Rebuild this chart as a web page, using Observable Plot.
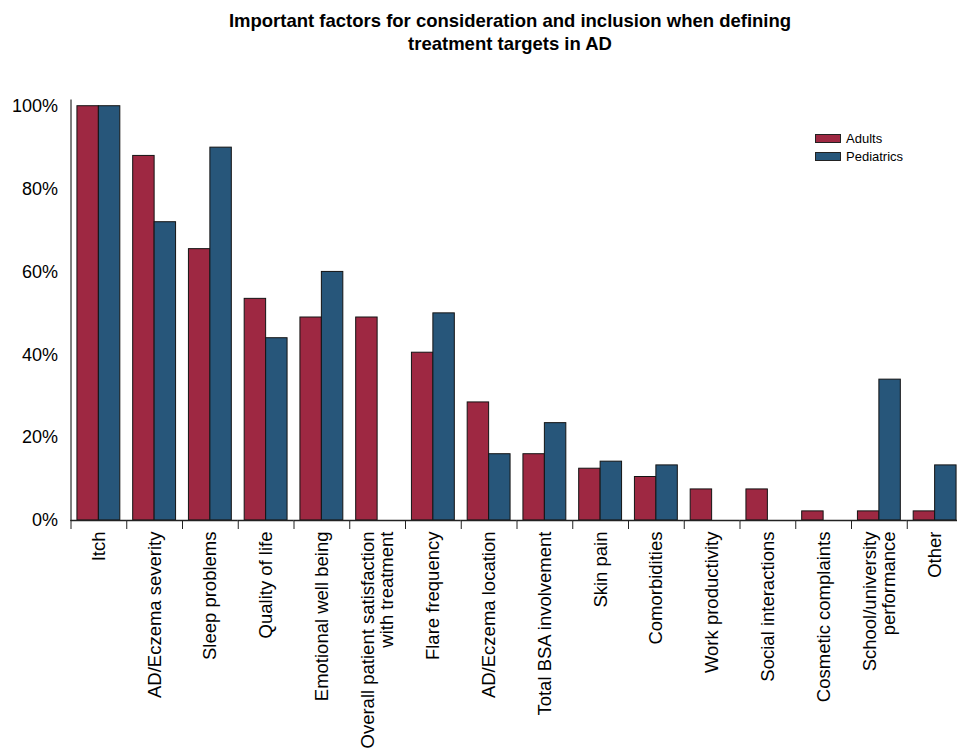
<!DOCTYPE html>
<html><head><meta charset="utf-8">
<script src="https://cdn.jsdelivr.net/npm/d3@7"></script>
<script src="https://cdn.jsdelivr.net/npm/@observablehq/plot@0.6"></script>
<style>
body{margin:0;background:#fff;font-family:"Liberation Sans",Arial,sans-serif;overflow:hidden;color:#000;}
#title{box-sizing:border-box;height:55px;padding:10px 0 0 63px;width:957px;text-align:center;font-weight:bold;font-size:18.5px;line-height:22.5px;white-space:nowrap;}
#wrap{position:relative;width:957px;}
#legend{position:absolute;left:815px;top:74px;font-size:13px;}
#legend .row{display:flex;align-items:center;height:18.5px;}
#legend .sw{width:24px;height:7px;border:1px solid #222;margin-right:5px;}
</style></head>
<body>
<div id="title">Important factors for consideration and inclusion when defining<br>treatment targets in AD</div>
<div id="wrap"><div id="chart"></div><div id="legend"></div></div>
<script>
const categories = ["Itch","AD/Eczema severity","Sleep problems","Quality of life","Emotional well being","Overall patient satisfaction\nwith treatment","Flare frequency","AD/Eczema location","Total BSA involvement","Skin pain","Comorbidities","Work productivity","Social interactions","Cosmetic complaints","School/university\nperformance","Other"];
const adults =     [100, 88, 65.5, 53.5, 49, 49, 40.5, 28.5, 16, 12.5, 10.5, 7.5, 7.5, 2.2, 2.2, 2.2];
const pediatrics = [100, 72, 90, 44, 60, 0, 50, 16, 23.5, 14.2, 13.3, 0, 0, 0, 34, 13.3];
const series = ["Adults","Pediatrics"];
const colors = ["#9e2842","#27567a"];
const yTicks = [0,20,40,60,80,100];

const rows = categories.flatMap((c,i)=>[
  {category:c, series:"Adults", value:adults[i]},
  {category:c, series:"Pediatrics", value:pediatrics[i]}
]).filter(d=>d.value>0);

const W = 957, ML = 70.5, MR = -5.5;
const step = (W - ML - MR) / categories.length;

const chart = Plot.plot({
  width: W, height: 693,
  marginTop: 44.5, marginBottom: 228, marginLeft: ML, marginRight: MR,
  style: {fontFamily: "Liberation Sans, Arial, sans-serif", fontSize: "18px", color: "#000", background: "#fff"},
  fx: {domain: categories, padding: 0, round: false, axis: null},
  x: {domain: series, paddingInner: 0, paddingOuter: 0.3, round: false, axis: null},
  y: {domain: [0, 101.5], ticks: yTicks, tickFormat: d => d + "%", tickSize: 0, tickPadding: 13, line: true, label: null},
  color: {domain: series, range: colors},
  marks: [
    Plot.barY(rows, {fx: "category", x: "series", y: "value", fill: "series", stroke: "#141414", strokeWidth: 1}),
    Plot.ruleY([0], {stroke: "#222", strokeWidth: 1.3}),
    Plot.axisFx({anchor: "bottom", tickSize: 9, tickFormat: () => "", dx: -step / 2, stroke: "#222", label: null}),
    Plot.axisFx({anchor: "bottom", tickSize: 0, tickPadding: 11, tickRotate: -90, label: null, lineHeight: 1, fontSize: 18.5})
  ]
});
document.getElementById("chart").appendChild(chart);

const leg = document.getElementById("legend");
series.forEach((s,i)=>{
  const r = document.createElement("div"); r.className="row";
  const sw = document.createElement("div"); sw.className="sw"; sw.style.background = colors[i];
  const t = document.createElement("span"); t.textContent = s;
  r.appendChild(sw); r.appendChild(t); leg.appendChild(r);
});
</script>
</body></html>
